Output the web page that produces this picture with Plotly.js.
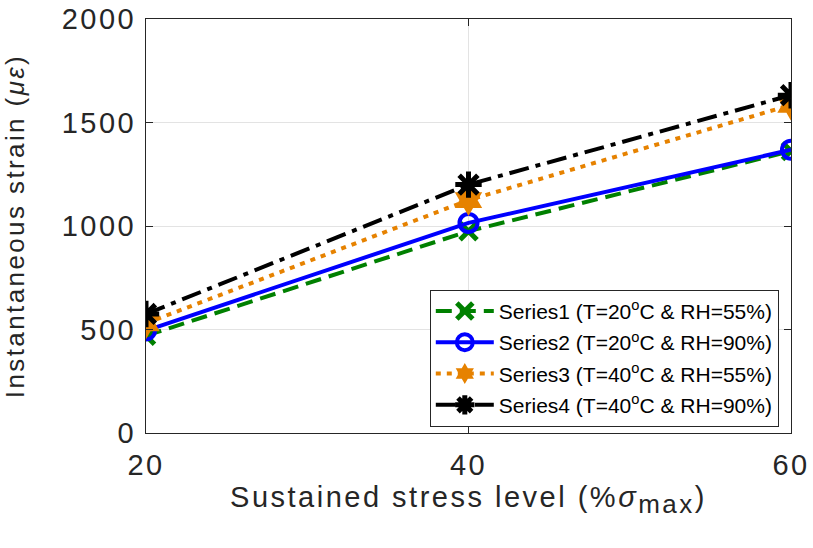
<!DOCTYPE html>
<html>
<head>
<meta charset="utf-8">
<script src="https://cdn.plot.ly/plotly-3.0.1.min.js"></script>
<style>
html,body{margin:0;padding:0;background:#fff;}
#chart{width:813px;height:548px;}
g.xtick text, g.ytick text { letter-spacing: 2.5px; }
text.xtitle { letter-spacing: 2.5px; }
text.ytitle { letter-spacing: 2.4px; }
</style>
</head>
<body>
<div id="chart"></div>
<script>
const stressLevels = [20, 40, 60];
const series1 = [470, 975, 1362];
const series2 = [495, 1015, 1368];
const series3 = [530, 1125, 1585];
const series4 = [575, 1200, 1632];
const seriesNames = [
  "Series1 (T=20<sup>o</sup>C & RH=55%)",
  "Series2 (T=20<sup>o</sup>C & RH=90%)",
  "Series3 (T=40<sup>o</sup>C & RH=55%)",
  "Series4 (T=40<sup>o</sup>C & RH=90%)"
];
const xTicks = [20, 40, 60];
const yTicks = [0, 500, 1000, 1500, 2000];

const font = "Liberation Sans, Arial, sans-serif";
const ink = "#262626";

const traces = [
  {x: stressLevels, y: series1, name: seriesNames[0], legendgroup: "g1", mode: "lines+markers",
   line: {color: "rgb(0,128,0)", width: 4, dash: "16px,8px"},
   marker: {symbol: "x-thin-open", size: 17, line: {color: "rgb(0,128,0)", width: 5}}},
  {x: stressLevels, y: series2, name: seriesNames[1], legendgroup: "g2", mode: "lines+markers",
   line: {color: "rgb(0,0,255)", width: 4},
   marker: {symbol: "circle-open", size: 18, line: {color: "rgb(0,0,255)", width: 4}}},
  {x: stressLevels, y: series3, name: seriesNames[2], legendgroup: "g3", mode: "lines+markers",
   line: {color: "rgb(230,130,0)", width: 4, dash: "5px,6px"},
   marker: {symbol: "hexagram", size: 24, color: "rgb(230,130,0)", line: {width: 0}}},
  {x: stressLevels, y: series4, name: seriesNames[3], legendgroup: "g4", mode: "lines+markers",
   line: {color: "#000000", width: 4, dash: "20px,7px,5px,7px"},
   marker: {symbol: "asterisk-open", size: 22, line: {color: "#000000", width: 5}}}
];

const layout = {
  width: 813, height: 548,
  margin: {l: 146, r: 22, t: 19, b: 115},
  paper_bgcolor: "#fff", plot_bgcolor: "#fff",
  font: {family: font, color: ink},
  showlegend: true,
  legend: {
    x: 0.44, y: 0.015, xanchor: "left", yanchor: "bottom",
    bgcolor: "#fff", bordercolor: ink, borderwidth: 1,
    font: {family: font, size: 21, color: "#000"},
    traceorder: "grouped", tracegroupgap: 1, itemwidth: 58
  },
  xaxis: {
    range: [20, 60], tickvals: xTicks, ticktext: xTicks.map(String),
    ticks: "inside", ticklen: 7, tickcolor: ink, mirror: "ticks",
    showline: true, linecolor: ink, linewidth: 1,
    showgrid: true, gridcolor: "#e3e3e3", zeroline: false,
    tickfont: {size: 29, color: ink, family: font}, ticklabelstandoff: 6,
    title: {text: "Sustained stress level (%<i>σ</i><sub><span style=\"font-size:26px\">max</span></sub>)", font: {size: 29, color: ink, family: font}, standoff: 6}
  },
  yaxis: {
    range: [0, 2000], tickvals: yTicks, ticktext: yTicks.map(String),
    ticks: "inside", ticklen: 7, tickcolor: ink, mirror: "ticks",
    showline: true, linecolor: ink, linewidth: 1,
    showgrid: true, gridcolor: "#e3e3e3", zeroline: false,
    tickfont: {size: 29, color: ink, family: font}, ticklabelstandoff: 3,
    title: {text: "Instantaneous strain (<i>με</i>)", font: {size: 26, color: ink, family: font}, standoff: 30}
  }
};

Plotly.newPlot("chart", traces, layout, {displayModeBar: false, staticPlot: true});
</script>
</body>
</html>
